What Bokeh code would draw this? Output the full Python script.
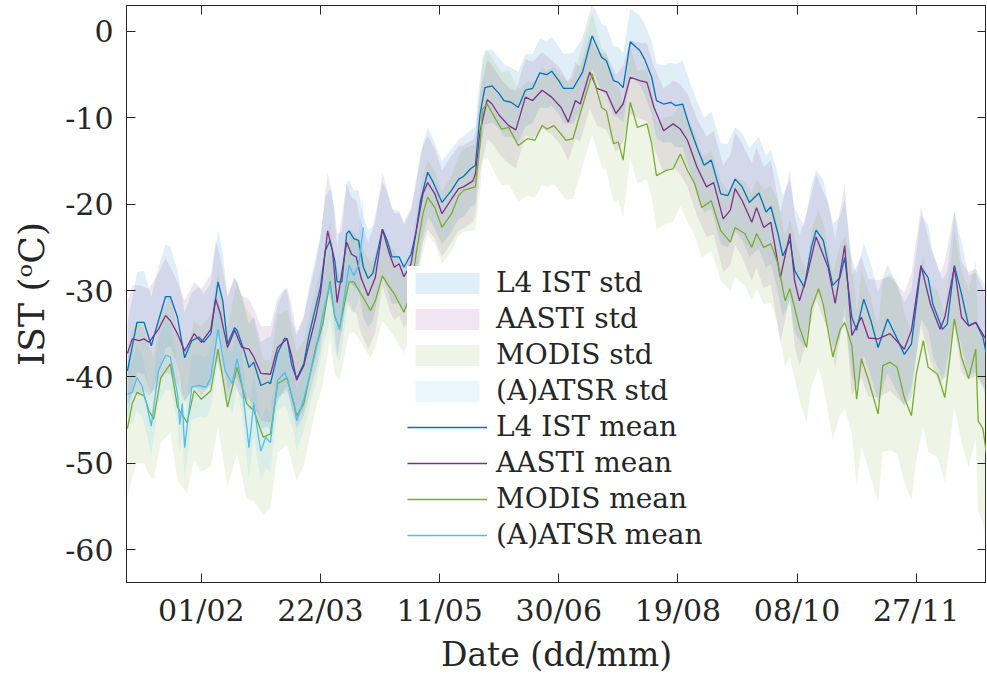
from bokeh.plotting import figure
from bokeh.models import LinearAxis, FixedTicker, Legend, LegendItem
from bokeh.embed import file_html
from bokeh.resources import INLINE

# ---------------- data (day of year, value in degC) ----------------
tick_days = [32, 82, 132, 182, 232, 282, 332]
tick_labels = ["01/02", "22/03", "11/05", "30/06", "19/08", "08/10", "27/11"]
y_ticks = [-60, -50, -40, -30, -20, -10, 0]
y_tick_labels = ["-60", "-50", "-40", "-30", "-20", "-10", "0"]

l4_days = [1, 5, 8, 11, 14, 17, 19, 22, 25, 28,
           31, 33, 36, 39, 41, 43, 46, 47, 50, 52,
           54, 57, 60, 61, 64, 67, 68, 70, 72, 75,
           77, 80, 82, 84, 86, 88, 89, 91, 93, 94,
           96, 98, 100, 102, 104, 108, 110, 112, 115, 117,
           120, 122, 124, 127, 129, 133, 137, 140, 142, 145,
           147, 149, 151, 154, 157, 159, 162, 165, 168, 171,
           174, 177, 179, 182, 184, 188, 192, 196, 200, 202,
           205, 207, 209, 212, 216, 218, 221, 223, 226, 229,
           231, 234, 237, 240, 243, 246, 250, 253, 256, 259,
           262, 266, 269, 271, 274, 276, 279, 281, 285, 288,
           290, 293, 297, 300, 302, 305, 307, 310, 313, 316,
           320, 323, 327, 330, 334, 337, 339, 343, 345, 348,
           351, 354, 357, 360, 362]
l4_mean = [-39.3, -33.7, -33.7, -36.4, -33.5, -30.7, -30.7, -33.1, -37.8, -35.8,
           -35.4, -36.0, -35.0, -29.0, -31.2, -36.2, -34.3, -34.6, -37.0, -38.9,
           -38.3, -41.0, -40.6, -40.8, -37.3, -35.5, -35.6, -38.7, -40.2, -38.5,
           -35.4, -31.9, -29.6, -25.4, -24.2, -26.5, -29.0, -29.0, -23.4, -23.1,
           -24.0, -24.2, -27.3, -28.6, -28.0, -22.9, -24.2, -26.1, -26.1, -27.3,
           -25.8, -23.4, -19.6, -16.3, -17.3, -19.8, -18.4, -17.1, -16.8, -15.9,
           -15.5, -9.5, -6.5, -6.3, -7.2, -8.0, -8.2, -8.8, -6.8, -6.6,
           -4.8, -5.0, -4.6, -5.7, -6.6, -6.6, -4.7, -0.5, -3.0, -3.4,
           -5.7, -5.9, -6.5, -1.2, -2.2, -3.2, -5.3, -8.0, -8.4, -8.2,
           -8.6, -8.4, -11.1, -13.4, -15.5, -14.9, -18.8, -19.0, -17.1, -18.0,
           -19.8, -18.7, -20.9, -20.3, -23.4, -26.0, -24.2, -27.7, -29.6, -25.0,
           -23.0, -24.2, -29.4, -28.5, -26.2, -33.1, -34.6, -31.0, -33.5, -36.6,
           -33.3, -35.0, -37.4, -36.2, -27.3, -28.5, -31.6, -34.5, -33.9, -27.1,
           -30.4, -34.1, -33.7, -35.4, -38.1]
l4_std = [5.5, 5.8, 6.0, 5.6, 6.2, 6.0, 5.8, 5.5, 5.2, 5.6,
          5.8, 5.5, 5.9, 6.0, 5.6, 5.4, 5.8, 5.6, 5.2, 5.0,
          5.3, 5.0, 5.2, 5.4, 5.6, 5.8, 5.5, 5.2, 5.0, 5.3,
          5.6, 5.8, 6.0, 6.2, 6.0, 5.8, 5.6, 5.8, 6.0, 5.8,
          5.6, 5.8, 5.9, 5.6, 5.5, 5.4, 5.6, 5.5, 5.3, 5.2,
          5.4, 5.6, 5.5, 5.2, 5.0, 4.8, 4.8, 4.6, 4.7, 4.5,
          4.5, 4.4, 4.3, 4.2, 4.1, 4.2, 4.0, 4.1, 4.2, 4.0,
          4.0, 3.9, 4.0, 3.9, 4.0, 4.1, 4.0, 3.8, 3.9, 4.0,
          4.0, 4.1, 4.0, 3.9, 4.0, 4.1, 4.2, 4.3, 4.5, 4.6,
          4.8, 5.0, 5.2, 5.4, 5.5, 5.6, 5.8, 6.0, 6.0, 6.2,
          6.3, 6.5, 6.5, 6.6, 6.8, 7.0, 7.0, 7.2, 7.0, 7.2,
          7.0, 7.0, 7.2, 7.0, 6.8, 6.8, 6.6, 6.5, 6.5, 6.4,
          6.3, 6.2, 6.0, 6.2, 6.0, 6.1, 6.0, 5.8, 6.0, 6.2,
          6.0, 5.8, 5.8, 5.6, 5.6]

aasti_days = [1, 3, 6, 8, 10, 14, 17, 19, 22, 25,
              29, 32, 36, 38, 40, 43, 46, 49, 52, 54,
              57, 61, 64, 68, 70, 72, 75, 80, 82, 85,
              87, 89, 93, 95, 97, 99, 102, 105, 108, 111,
              113, 115, 117, 120, 122, 125, 127, 130, 133, 137,
              140, 142, 146, 147, 149, 152, 154, 157, 161, 164,
              168, 171, 175, 179, 183, 186, 189, 191, 195, 198,
              202, 206, 209, 212, 216, 219, 222, 226, 230, 233,
              236, 240, 244, 247, 251, 254, 256, 259, 263, 265,
              268, 271, 275, 279, 281, 283, 286, 290, 295, 298,
              302, 305, 309, 312, 316, 321, 327, 330, 334, 338,
              342, 344, 348, 351, 354, 357, 362]
aasti_mean = [-37.3, -35.6, -35.8, -35.6, -36.0, -34.5, -32.9, -33.5, -35.0, -37.0,
              -35.0, -36.0, -34.5, -31.0, -32.7, -36.6, -34.6, -36.6, -36.8, -37.7,
              -39.6, -39.7, -36.6, -35.6, -37.7, -40.4, -38.7, -33.1, -30.4, -23.1,
              -25.4, -31.4, -24.4, -25.8, -26.1, -28.5, -30.6, -28.5, -22.9, -25.8,
              -27.3, -26.9, -28.4, -26.9, -23.4, -18.8, -17.5, -18.8, -21.1, -19.4,
              -18.2, -18.0, -17.3, -16.5, -11.5, -7.9, -8.4, -9.7, -10.9, -11.4,
              -7.6, -8.0, -6.8, -7.6, -8.8, -10.5, -8.0, -8.4, -4.7, -6.6,
              -7.0, -9.5, -8.4, -5.3, -5.7, -5.9, -8.8, -11.5, -10.7, -11.3,
              -12.6, -15.7, -18.0, -17.5, -21.7, -20.7, -18.2, -19.6, -22.1, -20.4,
              -22.7, -22.1, -28.5, -23.4, -28.9, -31.2, -28.5, -23.8, -27.3, -31.5,
              -24.8, -35.2, -33.1, -35.5, -35.6, -35.0, -36.8, -34.6, -27.1, -31.6,
              -34.5, -33.1, -27.3, -33.1, -34.1, -33.7, -36.0]
aasti_std = [6.0, 6.2, 6.4, 6.0, 6.2, 6.5, 6.6, 6.2, 6.0, 5.8,
             6.0, 6.2, 6.4, 6.8, 6.5, 6.0, 6.2, 6.0, 5.8, 5.6,
             5.5, 5.6, 5.8, 6.0, 5.8, 5.6, 5.8, 6.2, 6.5, 6.8,
             6.6, 6.4, 6.8, 6.6, 6.5, 6.4, 6.2, 6.4, 6.6, 6.4,
             6.2, 6.0, 6.0, 6.2, 6.0, 5.6, 5.4, 5.2, 5.0, 5.0,
             4.9, 4.8, 4.8, 4.8, 4.7, 4.6, 4.5, 4.5, 4.4, 4.5,
             4.4, 4.5, 4.4, 4.3, 4.4, 4.5, 4.4, 4.3, 4.2, 4.3,
             4.4, 4.5, 4.4, 4.3, 4.4, 4.5, 4.7, 4.9, 5.0, 5.2,
             5.4, 5.6, 5.8, 6.0, 6.2, 6.4, 6.5, 6.6, 6.8, 7.0,
             7.0, 7.2, 7.5, 7.4, 7.6, 7.5, 7.4, 7.2, 7.4, 7.5,
             7.2, 7.0, 7.0, 6.8, 6.8, 6.6, 6.5, 6.6, 6.8, 6.6,
             6.5, 6.4, 6.6, 6.4, 6.2, 6.2, 6.0]

modis_days = [1, 3, 5, 8, 10, 12, 15, 19, 22, 26,
              29, 32, 36, 39, 43, 47, 51, 54, 58, 61,
              64, 68, 72, 75, 80, 83, 86, 88, 90, 94,
              96, 99, 103, 105, 108, 110, 113, 117, 120, 122,
              125, 127, 130, 133, 137, 140, 142, 147, 149, 150,
              152, 155, 158, 161, 165, 169, 172, 175, 177, 180,
              183, 185, 188, 191, 196, 200, 202, 205, 207, 209,
              212, 215, 219, 221, 223, 227, 230, 233, 236, 239,
              242, 246, 250, 254, 256, 260, 263, 265, 268, 271,
              274, 277, 279, 283, 286, 288, 291, 293, 297, 300,
              302, 305, 307, 309, 312, 316, 318, 321, 324, 327,
              330, 332, 335, 337, 341, 344, 346, 348, 351, 354,
              357, 358, 360, 362]
modis_mean = [-46.0, -43.1, -41.8, -42.2, -43.9, -44.9, -40.1, -38.5, -43.5, -45.3,
              -41.6, -42.6, -41.6, -36.8, -43.5, -38.9, -43.1, -43.9, -47.0, -46.6,
              -40.8, -40.1, -44.5, -43.1, -36.6, -33.9, -28.9, -33.1, -34.3, -29.0,
              -29.0, -30.4, -32.3, -31.2, -28.3, -29.2, -30.4, -32.5, -30.4, -26.0,
              -21.1, -19.2, -20.4, -22.7, -21.1, -19.0, -18.4, -18.0, -13.0, -9.0,
              -8.4, -9.9, -11.3, -11.1, -13.2, -12.4, -12.6, -10.9, -11.3, -10.9,
              -11.9, -12.6, -12.4, -9.5, -4.9, -8.8, -9.2, -13.0, -12.8, -14.9,
              -8.2, -11.1, -10.7, -13.0, -16.7, -16.1, -15.9, -14.2, -16.1, -17.6,
              -20.4, -19.6, -23.1, -24.4, -22.7, -23.4, -25.0, -23.4, -25.0, -24.6,
              -26.9, -31.2, -29.8, -34.3, -36.6, -32.1, -29.8, -31.6, -37.7, -34.6,
              -33.7, -36.4, -42.6, -37.9, -40.4, -44.3, -38.7, -38.3, -38.9, -42.4,
              -44.5, -39.7, -35.8, -38.9, -39.7, -42.4, -38.1, -33.3, -37.7, -40.2,
              -36.8, -45.1, -46.0, -50.0]
modis_std = [8.0, 8.5, 8.2, 7.8, 7.5, 7.0, 7.5, 8.0, 8.5, 8.2,
             8.0, 8.4, 8.8, 9.0, 9.2, 10.0, 11.0, 10.5, 9.0, 8.5,
             8.0, 7.8, 7.5, 7.2, 7.0, 7.0, 6.8, 6.5, 6.2, 6.0,
             5.8, 5.6, 5.5, 5.4, 5.2, 5.0, 5.0, 4.8, 4.6, 4.5,
             4.4, 4.3, 4.2, 4.2, 4.4, 4.6, 4.8, 5.0, 5.5, 6.0,
             6.2, 6.4, 6.5, 6.6, 6.5, 6.6, 6.7, 6.8, 6.7, 6.8,
             6.8, 6.9, 7.0, 7.0, 7.0, 6.9, 6.8, 6.8, 6.7, 6.6,
             6.5, 6.5, 6.4, 6.3, 6.2, 6.2, 6.1, 6.0, 6.0, 6.0,
             5.8, 5.8, 5.8, 5.6, 5.8, 6.0, 6.2, 6.4, 6.6, 6.8,
             7.2, 7.6, 8.0, 8.4, 8.8, 9.0, 9.2, 9.4, 9.6, 9.8,
             10.0, 10.2, 10.0, 10.2, 10.4, 10.2, 10.0, 10.2, 10.0, 9.8,
             9.8, 10.0, 10.0, 9.8, 9.6, 9.8, 10.0, 10.2, 10.0, 10.2,
             10.4, 10.6, 10.8, 11.0]

atsr_days = [1, 3, 5, 7, 9, 11, 14, 17, 19, 22,
             23, 24, 25, 28, 31, 34, 36, 39, 42, 45,
             47, 49, 52, 54, 56, 57, 59, 61, 64, 67,
             68, 71, 72, 75, 80, 83, 86, 88, 90, 94,
             96, 98, 100]
atsr_mean = [-42.0, -41.8, -40.1, -41.0, -43.1, -45.7, -39.3, -37.5, -37.7, -42.0,
             -45.5, -43.1, -48.2, -41.2, -41.0, -41.2, -40.1, -34.5, -39.3, -40.8,
             -37.9, -40.8, -48.2, -43.0, -47.0, -48.6, -47.0, -47.6, -40.4, -39.5,
             -40.3, -43.1, -45.1, -42.6, -37.0, -32.7, -29.2, -32.9, -34.5, -27.1,
             -28.3, -27.1, -22.7]
atsr_std = [3.5, 3.6, 3.8, 3.6, 3.4, 3.5, 3.8, 4.0, 3.8, 3.6,
            3.5, 3.4, 3.6, 3.8, 3.6, 3.5, 3.6, 3.8, 3.6, 3.5,
            3.4, 3.5, 3.8, 3.6, 3.5, 3.6, 3.5, 3.4, 3.6, 3.8,
            3.6, 3.5, 3.4, 3.6, 3.8, 4.0, 4.2, 4.0, 3.8, 4.0,
            4.2, 4.0, 4.2]

series = [
    ("L4 IST", l4_days, l4_mean, l4_std, "#0072BD"),
    ("AASTI", aasti_days, aasti_mean, aasti_std, "#7E2F8E"),
    ("MODIS", modis_days, modis_mean, modis_std, "#77AC30"),
    ("(A)ATSR", atsr_days, atsr_mean, atsr_std, "#4DBEEE"),
]

FONT = "DejaVu Serif"
INK = "#262626"

p = figure(width=986, height=676, x_range=(0.6, 361.5), y_range=(-63.82, 3.01),
           output_backend="svg", toolbar_location=None,
           min_border_left=126, min_border_right=0, min_border_top=5,
           min_border_bottom=94, background_fill_color="white",
           border_fill_color="white")
p.xgrid.grid_line_color = None
p.ygrid.grid_line_color = None
p.outline_line_color = INK
p.outline_line_width = 1

band_items, line_items = [], []
for name, d, m, s, c in series:
    lo = [a - b for a, b in zip(m, s)]
    hi = [a + b for a, b in zip(m, s)]
    r = p.varea(x=d, y1=lo, y2=hi, fill_color=c, fill_alpha=0.12)
    band_items.append(LegendItem(label=name + " std", renderers=[r]))
for name, d, m, s, c in series:
    r = p.line(x=d, y=m, line_color=c, line_width=1.3)
    line_items.append(LegendItem(label=name + " mean", renderers=[r]))

# axes
xa = p.xaxis[0]
xa.ticker = FixedTicker(ticks=tick_days)
xa.major_label_overrides = {d: l for d, l in zip(tick_days, tick_labels)}
xa.axis_label = "Date (dd/mm)"
ya = p.yaxis[0]
ya.ticker = FixedTicker(ticks=y_ticks)
ya.major_label_overrides = {t: l for t, l in zip(y_ticks, y_tick_labels)}
ya.axis_label = "IST (\u1d52C)"
for ax in (xa, ya):
    ax.axis_line_color = INK
    ax.major_tick_line_color = INK
    ax.major_tick_in = 9
    ax.major_tick_out = 0
    ax.minor_tick_line_color = None
    ax.major_label_text_font = FONT
    ax.major_label_text_font_size = "30px"
    ax.major_label_text_color = INK
    ax.axis_label_text_font = FONT
    ax.axis_label_text_font_style = "normal"
    ax.axis_label_text_color = INK
xa.axis_label_text_font_size = "33px"
ya.axis_label_text_font_size = "36px"
xa.major_label_standoff = 10
xa.axis_label_standoff = 4
ya.major_label_standoff = 13
ya.axis_label_standoff = 10

for loc, tk in (("above", tick_days), ("right", y_ticks)):
    ax = LinearAxis(ticker=FixedTicker(ticks=tk),
                    major_label_overrides={t: "" for t in tk},
                    major_label_text_font_size="0px",
                    major_label_standoff=0, major_tick_in=9, major_tick_out=0,
                    minor_tick_line_color=None, axis_line_color=INK,
                    major_tick_line_color=INK)
    p.add_layout(ax, loc)

legend = Legend(items=band_items + line_items, location=(281, 31),
                label_text_font=FONT, label_text_font_size="28px",
                label_text_color=INK, glyph_width=80, glyph_height=26,
                label_height=33, label_standoff=9, spacing=3, padding=4,
                margin=0, border_line_color=None,
                background_fill_color="white", background_fill_alpha=1.0)
p.add_layout(legend)

open("out.html", "w").write(file_html(p, INLINE))
